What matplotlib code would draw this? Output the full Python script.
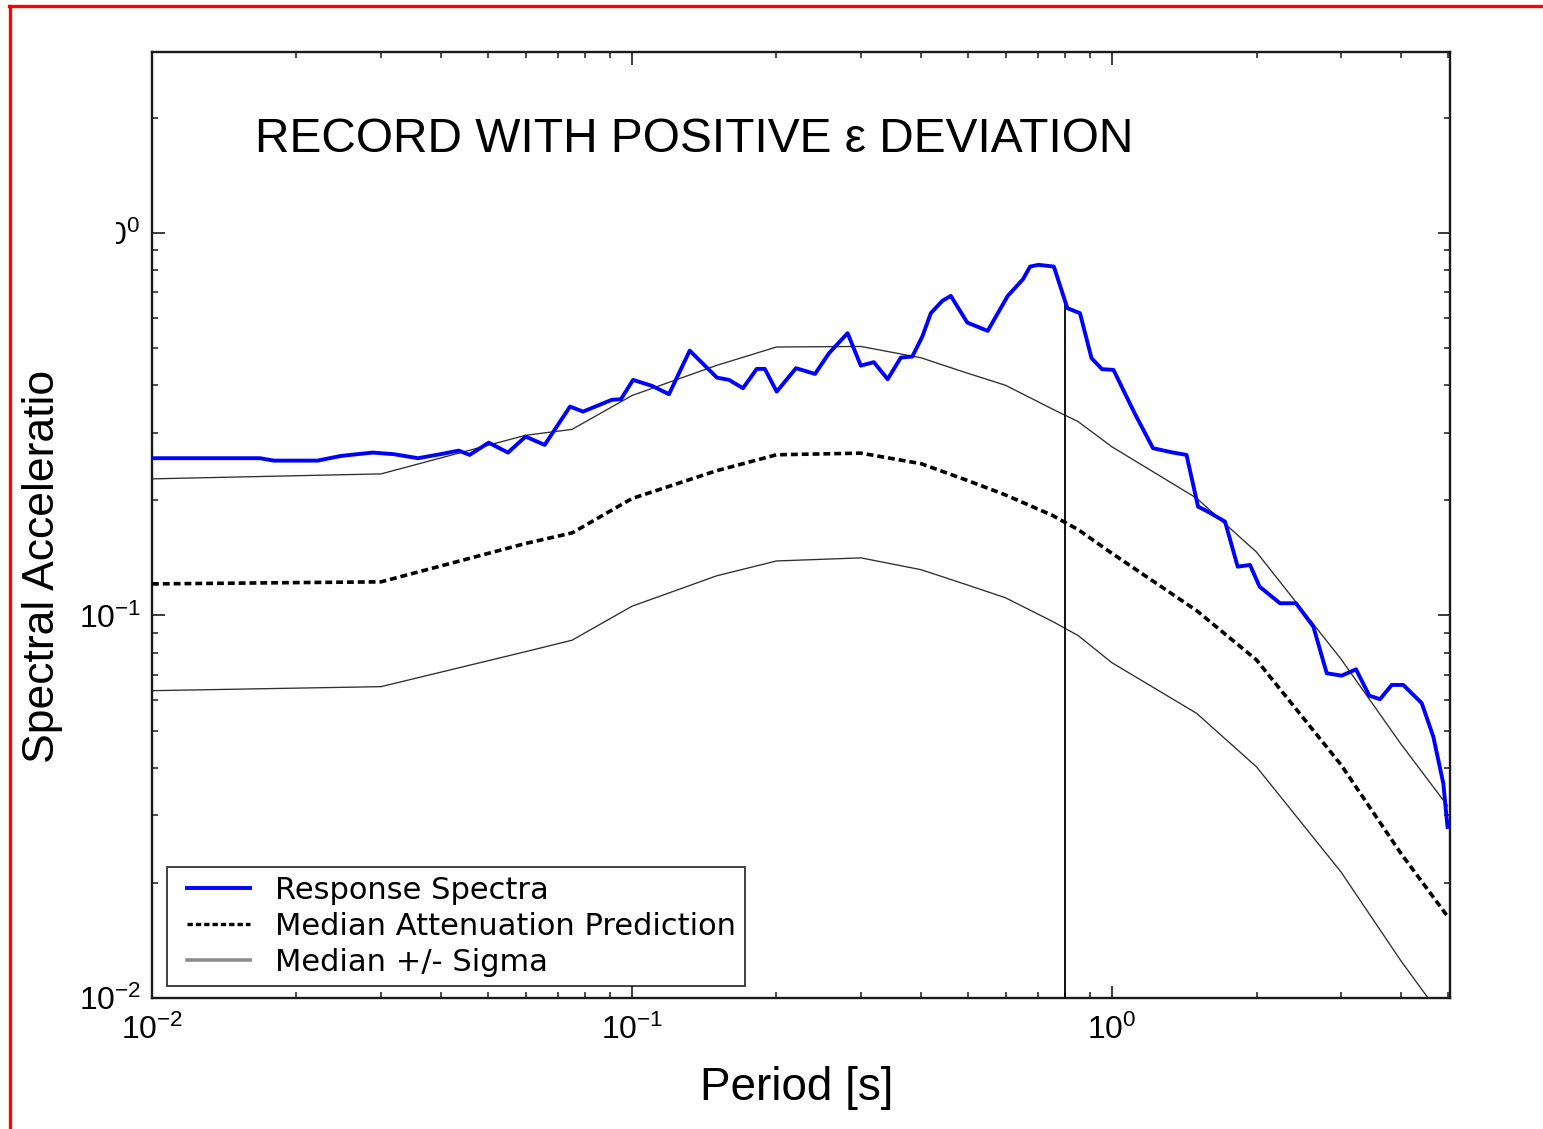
import numpy as np
import matplotlib
matplotlib.use("Agg")
import matplotlib.pyplot as plt
from matplotlib.lines import Line2D
from matplotlib.patches import Rectangle
from matplotlib.legend_handler import HandlerLine2D

plt.rcParams["mathtext.fontset"] = "custom"
plt.rcParams["mathtext.rm"] = "Liberation Sans"
plt.rcParams["mathtext.it"] = "Liberation Sans:italic"
plt.rcParams["mathtext.bf"] = "Liberation Sans:bold"
plt.rcParams["axes.unicode_minus"] = False
plt.rcParams["font.family"] = ["Liberation Sans", "DejaVu Sans"]

# ---- attenuation model (median and +/- one sigma) ----
model_periods = [0.01, 0.03, 0.06, 0.075, 0.1, 0.15, 0.2, 0.3, 0.4, 0.5,
                 0.6, 0.75, 0.85, 1.0, 1.5, 2.0, 3.0, 4.0, 5.0]
median_sa = [0.1209, 0.1224, 0.1542, 0.1643, 0.2021, 0.2389, 0.2630, 0.2656,
             0.2493, 0.2253, 0.2065, 0.1828, 0.1676, 0.1453, 0.1030, 0.0765,
             0.0407, 0.02386, 0.01635]
plus_sigma_sa = [0.2275, 0.2344, 0.2957, 0.3064, 0.3757, 0.4503, 0.5031,
                 0.5047, 0.4715, 0.4297, 0.3996, 0.3467, 0.3211, 0.2758,
                 0.2026, 0.1464, 0.0769, 0.0461, 0.0318]
minus_sigma_sa = [0.06358, 0.06514, 0.08040, 0.08614, 0.1057, 0.1269, 0.1388,
                  0.1414, 0.1317, 0.1201, 0.1112, 0.0966, 0.0886, 0.0752,
                  0.0555, 0.0402, 0.02135, 0.01250, 0.00852]

# ---- recorded response spectrum ----
record_periods = [0.0100, 0.01679, 0.01795, 0.02212, 0.02476, 0.02880, 0.03193,
                  0.03583, 0.04020, 0.04354, 0.04589, 0.05029, 0.05515, 0.06002,
                  0.06577, 0.07428, 0.07906, 0.09073, 0.09486, 0.1005, 0.1101,
                  0.1194, 0.1319, 0.1503, 0.1593, 0.1703, 0.1819, 0.1891, 0.2002,
                  0.2196, 0.2406, 0.2573, 0.2813, 0.2997, 0.3190, 0.3409, 0.3631,
                  0.3837, 0.4025, 0.4193, 0.4431, 0.4615, 0.4995, 0.5508, 0.6065,
                  0.6527, 0.6750, 0.7031, 0.7566, 0.8072, 0.8577, 0.9064, 0.9532,
                  1.0072, 1.1145, 1.2172, 1.3400, 1.4297, 1.5109, 1.5828, 1.7197,
                  1.8276, 1.9387, 2.0300, 2.2387, 2.4167, 2.6270, 2.8015, 3.0098,
                  3.2234, 3.4356, 3.6166, 3.8254, 4.0448, 4.4180, 4.6710, 4.8998,
                  5.0]
record_sa = [0.2576, 0.2576, 0.2539, 0.2539, 0.2612, 0.2665, 0.2639, 0.2576,
             0.2644, 0.2697, 0.2628, 0.2829, 0.2665, 0.2934, 0.2791, 0.3515,
             0.3410, 0.3660, 0.3675, 0.4127, 0.3981, 0.3787, 0.4923, 0.4184,
             0.4127, 0.3926, 0.4410, 0.4410, 0.3846, 0.4429, 0.4278, 0.4847,
             0.5468, 0.4497, 0.4592, 0.4145, 0.4721, 0.4750, 0.5356, 0.6166,
             0.6641, 0.6844, 0.5827, 0.5543, 0.6844, 0.7568, 0.8164, 0.8249,
             0.8164, 0.6356, 0.6166, 0.4704, 0.4402, 0.4384, 0.3378, 0.2736,
             0.2665, 0.2628, 0.1925, 0.1868, 0.1759, 0.1341, 0.1355, 0.1189,
             0.1076, 0.1076, 0.0935, 0.0706, 0.0696, 0.0723, 0.0617, 0.0604,
             0.0658, 0.0658, 0.0590, 0.0482, 0.0364, 0.0280]

target_period = 0.8

legend_labels = ["Response Spectra", "Median Attenuation Prediction",
                 "Median +/- Sigma"]

fig = plt.figure(figsize=(15.43, 11.29), dpi=100)
ax = fig.add_axes([152 / 1543, 1 - 998 / 1129, 1298 / 1543, 946 / 1129])

sigma_color = "0.18"
ax.plot(model_periods, plus_sigma_sa, color=sigma_color, lw=0.95, zorder=2)
ax.plot(model_periods, minus_sigma_sa, color=sigma_color, lw=0.95, zorder=2)
ax.plot(model_periods, median_sa, color="black", lw=2.6,
        dashes=(1.9, 1.1), zorder=3)
ax.plot(record_periods, record_sa, color="#0000ff", lw=2.8, zorder=4)

# vertical marker at the target period, up to the recorded spectrum
sa_target = 10 ** np.interp(np.log10(target_period), np.log10(record_periods),
                            np.log10(record_sa))
ax.plot([target_period, target_period], [0.01, sa_target], color="black",
        lw=1.3, zorder=3)

ax.set_xscale("log")
ax.set_yscale("log")
ax.set_xlim(0.01, 5.06)
ax.set_ylim(0.01, 2.97)

for side in ax.spines.values():
    side.set_linewidth(1.7)
    side.set_color("#1a1a1a")
ax.tick_params(which="both", direction="in", top=True, right=True,
               colors="#1a1a1a", labelcolor="black")
ax.tick_params(which="major", length=9, width=1.2, labelsize=23)
ax.tick_params(which="minor", length=4.5, width=1.1)
ax.tick_params(axis="x", which="major", pad=12)
ax.tick_params(axis="y", which="major", pad=8)

fig.text(255 / 1543, 1 - 152 / 1129, "RECORD WITH POSITIVE \u03b5 DEVIATION",
         fontsize=34.5, ha="left", va="baseline")

ax.set_xlabel("Period [s]", fontsize=33)
ax.xaxis.set_label_coords((797 - 152) / 1298, (998 - 1100) / 946)
ax.xaxis.label.set_verticalalignment("baseline")

fig.text(43 / 1543, 1 - 763 / 1129, "Spectral Acceleratio", rotation=90,
         fontsize=32, ha="center", va="bottom")

handles = [
    Line2D([], [], color="#0000ff", lw=2.8),
    Line2D([], [], color="black", lw=2.4, dashes=(1.6, 0.9)),
    Line2D([], [], color="0.55", lw=2.6),
]
leg = ax.legend(handles, legend_labels, loc="lower left",
                bbox_to_anchor=((167 - 152) / 1298, (998 - 986) / 946),
                borderaxespad=0, frameon=True, fancybox=False,
                prop={"family": "DejaVu Sans", "size": 22},
                handlelength=2.4, handletextpad=0.82, borderpad=0.3,
                labelspacing=0.23,
                handler_map={h: HandlerLine2D(xpad=0.34) for h in handles})
leg.get_frame().set_edgecolor("black")
leg.get_frame().set_linewidth(1.3)
leg.set_zorder(6)

# white patch over the left part of the top tick label
fig.add_artist(Rectangle((0, 1 - 370 / 1129), 116 / 1543, 370 / 1129,
                         transform=fig.transFigure, facecolor="white",
                         edgecolor="none", zorder=10))

# red frame lines
fig.add_artist(Line2D([10 / 1543, 10 / 1543], [0, 1 - 5.5 / 1129],
                      transform=fig.transFigure, color="red", lw=2.4,
                      zorder=11))
fig.add_artist(Line2D([9 / 1543, 1], [1 - 5.5 / 1129, 1 - 5.5 / 1129],
                      transform=fig.transFigure, color="red", lw=2.4,
                      zorder=11))

fig.savefig("out.png", dpi=100)
